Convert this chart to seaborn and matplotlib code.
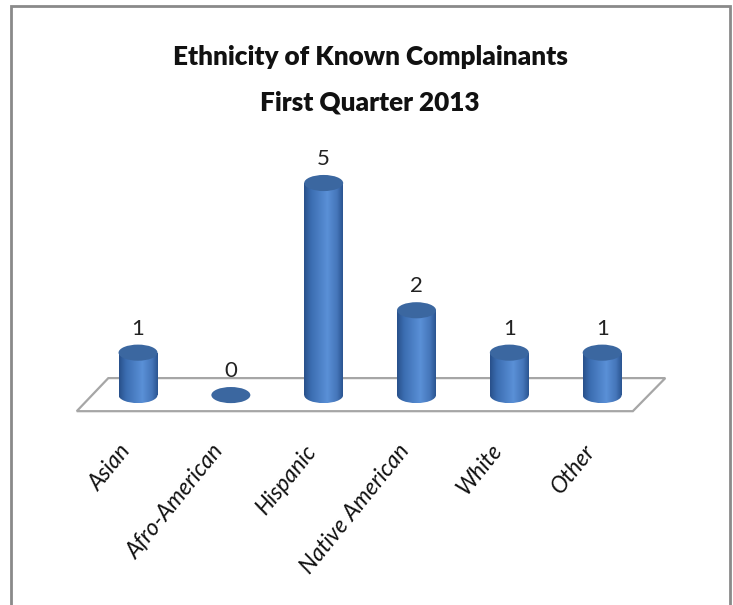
import numpy as np
import pandas as pd
import matplotlib
matplotlib.use("Agg")
import matplotlib.pyplot as plt
import seaborn as sns
from matplotlib.patches import Ellipse, Polygon, Rectangle
from matplotlib.colors import LinearSegmentedColormap
import matplotlib.transforms as mtransforms

categories = ["Asian", "Afro-American", "Hispanic", "Native American", "White", "Other"]
counts = [1, 0, 5, 2, 1, 1]
title_lines = ["Ethnicity of Known Complainants", "First Quarter 2013"]

sns.set_theme(style="white")
plt.rcParams["font.family"] = ["Lato", "DejaVu Sans"]

W, H = 733, 605
fig = plt.figure(figsize=(W / 100, H / 100), dpi=100)
ax = fig.add_axes([91.6 / W, (H - 429) / H, 557 / W, (429 - 140.6) / H])

df = pd.DataFrame({"cat": categories, "n": counts})
bar_w = 0.42
sns.barplot(data=df, x="cat", y="n", ax=ax, width=bar_w, color="#4a7fc4",
            saturation=1, zorder=3, linewidth=0)

cmap = LinearSegmentedColormap.from_list(
    "cyl", [(0, "#28508a"), (0.18, "#3b6db1"), (0.6, "#5a90d7"),
            (0.85, "#4576ba"), (1, "#2a5490")])
grad = np.linspace(0, 1, 256).reshape(1, -1)
eh = 0.38

for bar, v in zip(list(ax.patches), counts):
    x0 = bar.get_x()
    w = bar.get_width()
    cx = x0 + w / 2
    if v > 0:
        bot = Ellipse((cx, 0), w, eh, transform=ax.transData)
        for clip in (bar, bot):
            im = ax.imshow(grad, cmap=cmap, extent=(x0, x0 + w, -eh / 2, v),
                           aspect="auto", zorder=3.5, interpolation="bilinear")
            im.set_clip_path(clip)
    top = Ellipse((cx, v), w, eh, facecolor="#3b67a0", edgecolor="none", zorder=4)
    ax.add_patch(top)
    ax.text(cx, v + 0.33, str(v), ha="center", va="bottom", fontsize=16,
            color="#222222", zorder=5)

floor = Polygon([(-0.66, -0.38), (5.33, -0.38), (5.68, 0.40), (-0.32, 0.40)],
                closed=True, facecolor="white", edgecolor="#a6a6a6", lw=1.6,
                zorder=1, clip_on=False)
ax.add_patch(floor)

ax.set_xlim(-0.5, 5.5)
ax.set_ylim(-0.8, 6.0)
ax.axis("off")

# category labels
trans = mtransforms.blended_transform_factory(ax.transData, fig.transFigure) + \
    mtransforms.ScaledTranslation(-0.11, 0, fig.dpi_scale_trans)
for i, c in enumerate(categories):
    ax.text(i, 1 - 447 / H, c, transform=trans, rotation=51, ha="right",
            va="center", rotation_mode="anchor", fontsize=16.5, style="italic",
            color="#111111")

fig.text(370 / W, 1 - 57 / H, title_lines[0], ha="center", va="center",
         fontsize=18.8, fontweight="heavy", color="#111111")
fig.text(370 / W, 1 - 102 / H, title_lines[1], ha="center", va="center",
         fontsize=18.8, fontweight="heavy", color="#111111")

border = Rectangle((11 / W, -0.05), (730 - 11) / W, 1 - 6 / H + 0.05,
                   transform=fig.transFigure, fill=False, edgecolor="#8a8a8a",
                   lw=2, clip_on=False)
fig.add_artist(border)

fig.savefig("out.png", dpi=100)
